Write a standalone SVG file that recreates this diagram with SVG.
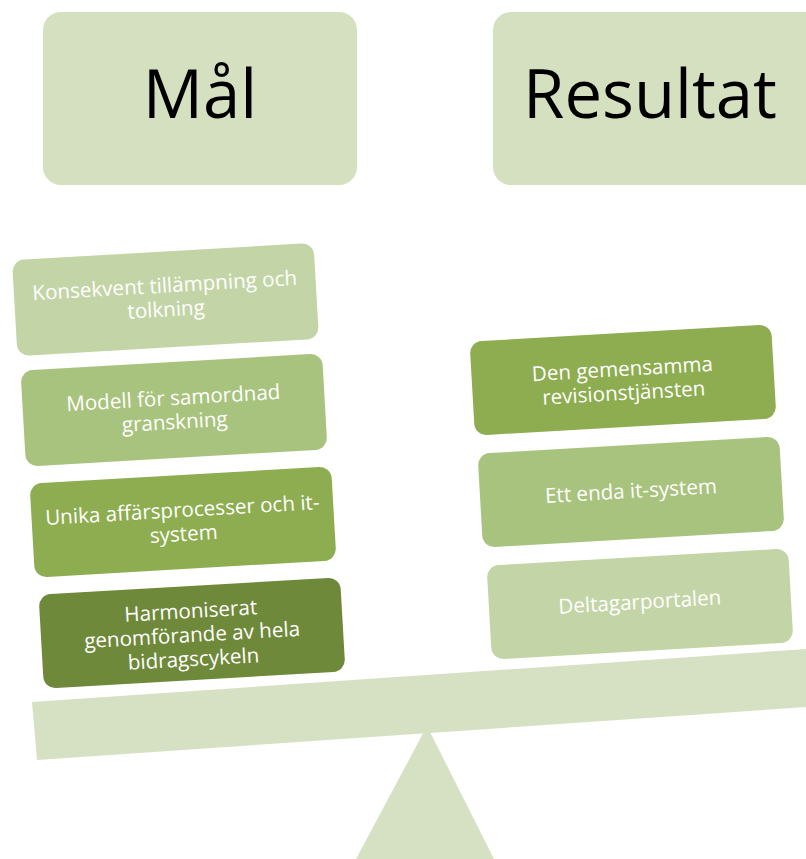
<svg xmlns="http://www.w3.org/2000/svg" width="806" height="859" viewBox="0 0 806 859">
  <style>
    .title { font-family: "Open Sans", "Liberation Sans", sans-serif; font-size: 67px; fill: #000000; text-anchor: middle; }
    .lbl { font-family: "Open Sans", "Liberation Sans", sans-serif; font-size: 20.6px; fill: #ffffff; text-anchor: middle; }
    .head { fill: #d5e0c1; }
    .c1 { fill: #c3d5a6; }
    .c2 { fill: #a8c37d; }
    .c3 { fill: #8dad50; }
    .c4 { fill: #6f893a; }
    .base { fill: #d6e1c3; }
  </style>
  <rect width="806" height="859" fill="#ffffff"/>

  <g id="mal">
    <rect class="head" x="43" y="12" width="314" height="173" rx="18"/>
    <text class="title" x="200" y="118">Mål</text>
  </g>
  <g id="resultat">
    <rect class="head" x="493" y="12" width="330" height="173" rx="18"/>
    <text class="title" x="650" y="118">Resultat</text>
  </g>

  <g id="balance">
    <polygon class="base" points="427,726 356,859 494,859"/>
    <polygon class="base" points="32,702 806,649 806,707 37,760"/>
  </g>

  <g id="konsekvent" transform="translate(165.5,299.5) rotate(-3.3)">
    <rect class="c1" x="-151" y="-48" width="302" height="96" rx="12"/>
    <text class="lbl" x="0" y="-7">Konsekvent tillämpning och</text>
    <text class="lbl" x="0" y="17">tolkning</text>
  </g>
  <g id="modell" transform="translate(174,410) rotate(-3.3)">
    <rect class="c2" x="-151" y="-48" width="302" height="96" rx="12"/>
    <text class="lbl" x="0" y="-5">Modell för samordnad</text>
    <text class="lbl" x="0" y="19">granskning</text>
  </g>
  <g id="unika" transform="translate(183,522) rotate(-3.3)">
    <rect class="c3" x="-151" y="-47" width="302" height="94" rx="12"/>
    <text class="lbl" x="0" y="-5">Unika affärsprocesser och it-</text>
    <text class="lbl" x="0" y="19">system</text>
  </g>
  <g id="harmoniserat" transform="translate(192,633) rotate(-3.3)">
    <rect class="c4" x="-151" y="-47" width="302" height="94" rx="12"/>
    <text class="lbl" x="0" y="-15">Harmoniserat</text>
    <text class="lbl" x="0" y="9">genomförande av hela</text>
    <text class="lbl" x="0" y="33">bidragscykeln</text>
  </g>

  <g id="revision" transform="translate(623,380) rotate(-3.3)">
    <rect class="c3" x="-151" y="-47" width="302" height="94" rx="12"/>
    <text class="lbl" x="0" y="-4">Den gemensamma</text>
    <text class="lbl" x="0" y="20">revisionstjänsten</text>
  </g>
  <g id="itsystem" transform="translate(631,492) rotate(-3.3)">
    <rect class="c2" x="-151" y="-47" width="302" height="94" rx="12"/>
    <text class="lbl" x="0" y="6">Ett enda it-system</text>
  </g>
  <g id="deltagarportalen" transform="translate(640,604) rotate(-3.3)">
    <rect class="c1" x="-151" y="-47" width="302" height="94" rx="12"/>
    <text class="lbl" x="0" y="5">Deltagarportalen</text>
  </g>
</svg>
